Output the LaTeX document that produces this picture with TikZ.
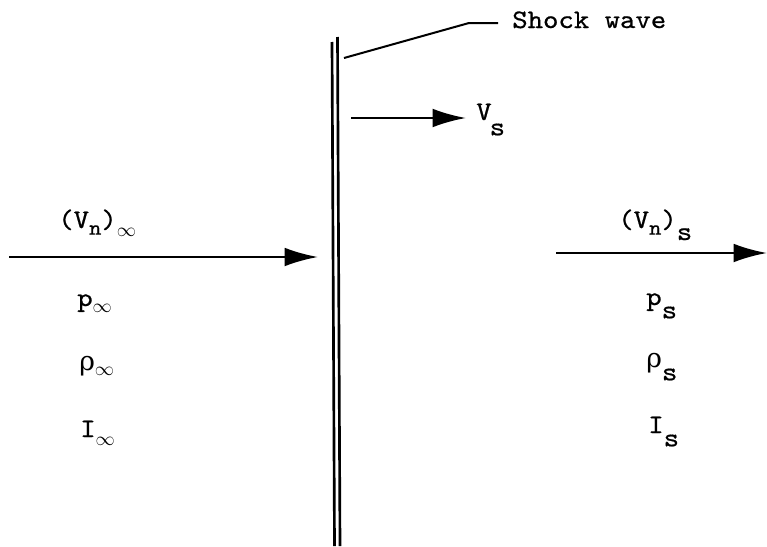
\documentclass[tikz,border=0pt]{standalone}
\usepackage{fontspec}
\setmainfont{lmmono10-regular.otf}[FakeStretch=1.1, FakeBold=0.7]
\newfontfamily\grk{DejaVu Serif}
\usetikzlibrary{arrows.meta,positioning}
\newcommand{\ssub}[1][-10pt]{\raisebox{#1}{s}}
\newcommand{\nsub}{\raisebox{-5pt}{\fontsize{16}{17}\selectfont n}}
\newcommand{\infsub}[1][-6pt]{\raisebox{#1}{\fontsize{15}{16}\selectfont$\infty$}}
\newcommand{\rh}{{\grk\fontsize{20}{22}\selectfont ρ}}
\tikzset{
  lbl/.style={anchor=base west, inner sep=0pt, font=\fontsize{20}{22}\selectfont},
  flow/.style={-{Latex[length=25pt,width=14pt]}, line width=1.8pt},
  wall/.style={line width=2pt},
  lead/.style={line width=1.5pt}
}

\begin{document}
\begin{tikzpicture}[x=0.75pt, y=-0.75pt]
  \useasboundingbox (0,0) rectangle (767,546);
  % shock wave
  \draw[wall] (332,42) -- (334.5,546);
  \draw[wall] (337.5,37) -- (340,546);
  \node[lbl] (shock) at (512,28) {Shock wave};
  \coordinate (touch) at (344,58);
  \coordinate (kink) at (469,23);
  \coordinate (leadend) at (498,23);
  \draw[lead] (touch) -- (kink) -- (leadend);
  % shock speed
  \coordinate (vsa) at (351,118);
  \coordinate (vsb) at (466,118);
  \draw[flow] (vsa) -- (vsb);
  \node[lbl] (vs) at (476,120) {V\hspace{-1.5pt}\ssub[-11.5pt]};
  % upstream
  \coordinate (ina) at (9,257);
  \coordinate (inb) at (318,257);
  \draw[flow] (ina) -- (inb);
  \node[lbl] (vinf) at (58,228) {(V\nsub)\infsub};
  \node[lbl] (pinf) at (77,306) {p\infsub[-5pt]};
  \node[lbl] (rinf) at (79,370) {\rh\infsub[-4pt]};
  \node[lbl] (iinf) at (80,437) {I\infsub};
  % downstream
  \coordinate (outa) at (556,253);
  \coordinate (outb) at (767,253);
  \draw[flow] (outa) -- (outb);
  \node[lbl] (vsh) at (618,228) {(V\nsub)\ssub[-9pt]};
  \node[lbl] (psh) at (646,305) {p\ssub};
  \node[lbl] (rsh) at (646,367) {\rh\ssub};
  \node[lbl] (ish) at (648,433) {I\ssub};
\end{tikzpicture}
\end{document}
